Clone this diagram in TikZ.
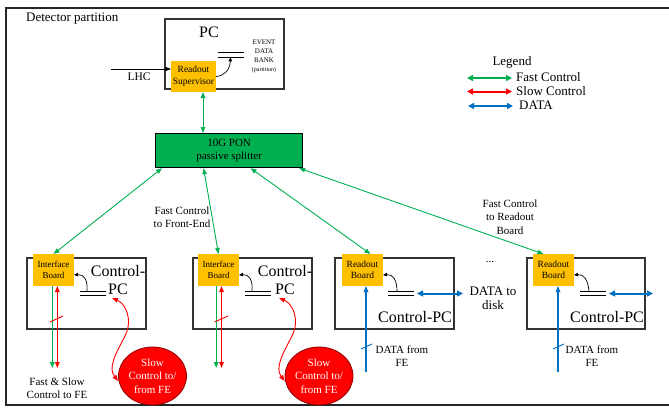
\documentclass[tikz,border=0pt]{standalone}
\usepackage{fontspec}
\setmainfont{Liberation Serif}
\usetikzlibrary{arrows.meta,shapes.geometric}
\definecolor{fcgreen}{RGB}{0,176,80}
\definecolor{scred}{RGB}{255,0,0}
\definecolor{datablue}{RGB}{0,112,192}
\definecolor{boardorange}{RGB}{255,192,0}
\newcommand{\fsz}[2]{\fontsize{#1}{#2}\selectfont}
\begin{document}
\begin{tikzpicture}[x=1pt,y=-1pt,
  frame/.style={draw=black!85,line width=1.8pt},
  pcbox/.style={draw=black!80,line width=1.2pt,rectangle,inner sep=0pt,outer sep=0pt,anchor=north west},
  board/.style={fill=boardorange,rectangle,inner sep=0pt,outer sep=0pt,anchor=north west,align=center},
  lbl/.style={align=center,inner sep=0pt},
  fc/.style={draw=fcgreen,line width=0.9pt,{Triangle[length=6pt,width=4.5pt]}-{Triangle[length=6pt,width=4.5pt]}},
  feline/.style={line width=1.3pt},
  legarrow/.style={line width=2pt,{Triangle[length=6pt,width=6pt]}-{Triangle[length=6pt,width=6pt]}},
  blk/.style={draw=black,line width=0.7pt},
  slowbubble/.style={ellipse,fill=scred,draw=scred!55!black,line width=0.8pt,minimum width=68pt,minimum height=58pt,inner sep=0pt,align=center,text=white,font=\fsz{11}{13.5}},
  store/.pic={
    \draw[black,line width=0.9pt] (-13,-2.3) -- (13,-2.3) (-13,2.3) -- (13,2.3);
    \coordinate (-top) at (0,-2.3);
    \coordinate (-bot) at (0,2.3);
    \coordinate (-e) at (13,0);
  }]
\useasboundingbox (0,0) rectangle (669,407);

% outer frame of the partition (open on the right)
\draw[frame] (690,8) -- (6,8) -- (6,405) -- (690,405);
\node[lbl,anchor=west,font=\fsz{13}{15}] (title) at (26,19) {Detector partition};

% partition PC with readout supervisor and event data bank
\node[pcbox,minimum width=119pt,minimum height=70pt] (pc) at (165,19) {};
\node[lbl,font=\fsz{16}{18}] (pclbl) at (209,32) {PC};
\node[board,minimum width=45pt,minimum height=31pt,font=\fsz{9.5}{12}] (rs) at (171,61) {Readout\\Supervisor};
\pic (db0) at (230.5,55) {store};
\node[lbl,font=\fsz{7}{9}] (dblbl) at (264,56.5) {EVENT\\DATA\\BANK\\{\fsz{6}{9}(partition)}};
\draw[blk,-{Triangle[length=4pt,width=3.5pt]}] (rs.east) .. controls (224,76) and (230,70) .. (db0-bot);

% LHC clock input
\coordinate (lhcin) at (111,69);
\draw[black,line width=0.9pt,-{Triangle[length=6pt,width=4.5pt]}] (lhcin) -- (lhcin -| rs.west);
\node[lbl,font=\fsz{11.5}{13}] (lhc) at (139,77) {LHC};

% passive optical splitter
\node[draw=black,line width=1.2pt,fill=fcgreen,rectangle,inner sep=0pt,minimum width=147pt,minimum height=34pt,anchor=north west,align=center,font=\fsz{11}{13}] (pon) at (155,133) {10G PON\\passive splitter};
\draw[fc] ([xshift=9.5pt]rs.south) -- ([xshift=9.5pt]rs.south |- pon.north);

% legend
\node[lbl,font=\fsz{13}{15}] (leg) at (512,62) {Legend};
\coordinate (lg1) at (467,78);
\coordinate (lg2) at (467,91.5);
\coordinate (lg3) at (468,106);
\node[lbl,anchor=west,font=\fsz{13}{15}] (lgt1) at (516,77) {Fast Control};
\node[lbl,anchor=west,font=\fsz{13}{15}] (lgt2) at (516,91) {Slow Control};
\node[lbl,anchor=west,font=\fsz{13}{15}] (lgt3) at (519,105.5) {DATA};
\draw[legarrow,fcgreen] (lg1) -- ([xshift=-4pt]lg1 -| lgt1.west);
\draw[legarrow,scred] (lg2) -- ([xshift=-4pt]lg2 -| lgt2.west);
\draw[legarrow,datablue] (lg3) -- ([xshift=-6pt]lg3 -| lgt3.west);

% control PCs
\node[pcbox,minimum width=119pt,minimum height=71pt] (cpc1) at (27,258) {};
\node[pcbox,minimum width=119pt,minimum height=71pt] (cpc2) at (193,258) {};
\node[pcbox,minimum width=119pt,minimum height=71pt] (cpc3) at (335,258) {};
\node[pcbox,minimum width=118pt,minimum height=71pt] (cpc4) at (527,258) {};

\node[board,minimum width=41pt,minimum height=32pt,font=\fsz{9}{11}] (ib1) at (33,254) {Interface\\Board};
\node[board,minimum width=41pt,minimum height=32pt,font=\fsz{9}{11}] (ib2) at (198,254) {Interface\\Board};
\node[board,minimum width=41pt,minimum height=32pt,font=\fsz{9.5}{11}] (rb1) at (342,254) {Readout\\Board};
\node[board,minimum width=41pt,minimum height=32pt,font=\fsz{9.5}{11}] (rb2) at (533,254) {Readout\\Board};

\node[lbl,font=\fsz{16}{18}] (cp1) at (118,280) {Control-\\PC};
\node[lbl,font=\fsz{16}{18}] (cp2) at (285,280) {Control-\\PC};
\node[lbl,font=\fsz{16}{18}] (cp3) at (415,317) {Control-PC};
\node[lbl,font=\fsz{16}{18}] (cp4) at (607,317) {Control-PC};

\pic (sb1) at (93,293.5) {store};
\pic (sb2) at (258,293.5) {store};
\pic (sb3) at (401,293.5) {store};
\pic (sb4) at (593,293.5) {store};

\draw[blk,{Triangle[length=4pt,width=3.5pt]}-] ([yshift=-5pt]ib1.east) .. controls (84,274) and (88,280) .. ([xshift=-6pt]sb1-top);
\draw[blk,{Triangle[length=4pt,width=3.5pt]}-] ([yshift=-5pt]ib2.east) .. controls (249,274) and (253,280) .. ([xshift=-6pt]sb2-top);
\draw[blk,{Triangle[length=4pt,width=3.5pt]}-] ([yshift=-5pt]rb1.east) .. controls (393,274) and (397,280) .. ([xshift=-4pt]sb3-top);
\draw[blk,{Triangle[length=4pt,width=3.5pt]}-] ([yshift=-5pt]rb2.east) .. controls (584,274) and (588,280) .. ([xshift=-4pt]sb4-top);

% fast control fan-out from the splitter
\draw[fc] ([xshift=7pt]pon.south west) -- (ib1.north);
\draw[fc] ([xshift=-25.5pt]pon.south) -- (ib2.north);
\draw[fc] ([xshift=21.5pt]pon.south) -- ([xshift=8pt]rb1.north);
\draw[fc] ([xshift=-4pt]pon.south east) -- ([xshift=-10pt]rb2.north);
\node[lbl,font=\fsz{11}{13.5}] (fcfe) at (182,217) {Fast Control\\to Front-End};
\node[lbl,font=\fsz{11}{13.5}] (fcrb) at (510,217) {Fast Control\\to Readout\\Board};

% links to the front-end: fast and slow control
\coordinate (fe1g) at (52.3,368);
\coordinate (fe1r) at (57.3,368);
\coordinate (fe2g) at (216.2,368);
\coordinate (fe2r) at (221.5,368);
\draw[feline,fcgreen,-{Triangle[length=6pt,width=4.5pt]}] (fe1g |- ib1.south) -- (fe1g);
\draw[feline,scred,{Triangle[length=6pt,width=4.5pt]}-{Triangle[length=6pt,width=4.5pt]}] (fe1r |- ib1.south) -- (fe1r);
\draw[feline,fcgreen,-{Triangle[length=6pt,width=4.5pt]}] (fe2g |- ib2.south) -- (fe2g);
\draw[feline,scred,{Triangle[length=6pt,width=4.5pt]}-{Triangle[length=6pt,width=4.5pt]}] (fe2r |- ib2.south) -- (fe2r);
\draw[scred,line width=0.9pt] (50,322) -- (63,316);
\draw[scred,line width=0.9pt] (214.5,322) -- (228,316);
\node[lbl,font=\fsz{11}{13.5}] (fsfe) at (57,388) {Fast \& Slow\\Control to FE};

% slow control to/from the front-end
\node[slowbubble] (sc1) at (152.5,376) {Slow\\Control to/\\from FE};
\node[slowbubble] (sc2) at (319,376) {Slow\\Control to/\\from FE};
\coordinate (pc1tip) at (112,298);
\coordinate (pc2tip) at (279,298);
\draw[scred,line width=0.9pt,{Triangle[length=6pt,width=4.5pt]}-{Triangle[length=6pt,width=4.5pt]}] (pc1tip) .. controls (126,304) and (133,320) .. (125,336) .. controls (115,355) and (108,368) .. ([yshift=-5pt]sc1.west);
\draw[scred,line width=0.9pt,{Triangle[length=6pt,width=4.5pt]}-{Triangle[length=6pt,width=4.5pt]}] (pc2tip) .. controls (293,304) and (300,320) .. (292,336) .. controls (282,355) and (275,368) .. ([yshift=-5pt]sc2.west);

% data from the front-end and to disk
\coordinate (fe3) at (366,372);
\coordinate (fe4) at (558,372);
\draw[feline,datablue,{Triangle[length=6pt,width=4.5pt]}-] (fe3 |- rb1.south) -- (fe3);
\draw[feline,datablue,{Triangle[length=6pt,width=4.5pt]}-] (fe4 |- rb2.south) -- (fe4);
\draw[datablue,line width=0.9pt] (361,349) -- (372,344);
\draw[datablue,line width=0.9pt] (553,349) -- (564,344);
\node[lbl,font=\fsz{11}{13.5}] (dfe3) at (402,356) {DATA from\\FE};
\node[lbl,font=\fsz{11}{13.5}] (dfe4) at (592,356) {DATA from\\FE};

\coordinate (disk1) at (463,293.5);
\coordinate (disk2) at (653,293.5);
\draw[datablue,line width=2pt,{Triangle[length=6pt,width=6pt]}-{Triangle[length=6pt,width=6pt]}] ([xshift=3pt]sb3-e) -- (disk1);
\draw[datablue,line width=2pt,{Triangle[length=6pt,width=6pt]}-{Triangle[length=6pt,width=6pt]}] ([xshift=3pt]sb4-e) -- (disk2);
\node[lbl,font=\fsz{13}{14}] (disk) at (493,298) {DATA to\\disk};
\node[lbl,font=\fsz{11}{13}] (dots) at (490,262) {...};
\end{tikzpicture}
\end{document}
